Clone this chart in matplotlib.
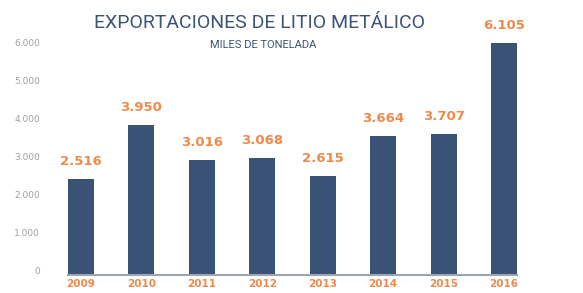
import matplotlib.pyplot as plt
import matplotlib.transforms as mtransforms

# ---------------------------------------------
# DATA
# ---------------------------------------------

years = ["2009", "2010", "2011", "2012", "2013", "2014", "2015", "2016"]
exports = [2516, 3950, 3016, 3068, 2615, 3664, 3707, 6105]
value_labels = ["2.516", "3.950", "3.016", "3.068", "2.615", "3.664", "3.707", "6.105"]
y_ticks = [0, 1000, 2000, 3000, 4000, 5000, 6000]
y_tick_labels = ["0", "1.000", "2.000", "3.000", "4.000", "5.000", "6.000"]

bar_color = "#3a5275"
orange = "#f0894a"
title_color = "#3d5478"

# ---------------------------------------------
# FIGURE
# ---------------------------------------------

W, H = 583, 293
fig = plt.figure(figsize=(W / 100, H / 100), dpi=100)

# axes: bars from x=68 to x=517 px, baseline at y=275 px
ax = fig.add_axes([68 / W, 18 / H, (517 - 68) / W, 235 / H])

x = list(range(len(years)))
ax.bar(x, exports, width=0.43, color=bar_color, zorder=2)

ax.set_xlim(-0.215, 7.215)
ax.set_ylim(0, 235 / 0.038)

# value labels above bars
for i, (v, lab) in enumerate(zip(exports, value_labels)):
    ax.annotate(lab, (i, v), xytext=(0, 8), textcoords="offset points",
                ha="center", va="bottom", color=orange, fontsize=9.5,
                fontweight="bold")

ax.set_xticks(x)
ax.set_xticklabels(years, color=orange, fontsize=7.5, fontweight="bold")
ax.tick_params(axis="x", length=0, pad=3)

ax.set_yticks(y_ticks)
ax.set_yticklabels(y_tick_labels, color="#a0a0a0", fontsize=6.5)
ax.tick_params(axis="y", length=0, pad=20)
offset = mtransforms.ScaledTranslation(0, 4 / 100, fig.dpi_scale_trans)
for lbl in ax.get_yticklabels():
    lbl.set_transform(lbl.get_transform() + offset)

for side in ["top", "right", "left"]:
    ax.spines[side].set_visible(False)
ax.spines["bottom"].set_color("#9aa5b5")
ax.spines["bottom"].set_linewidth(1.5)

# titles
fig.text(260 / W, 1 - 23 / H, "EXPORTACIONES DE LITIO METÁLICO", ha="center",
         va="center", color=title_color, fontsize=14, family="Roboto")
fig.text(263 / W, 1 - 45 / H, "MILES DE TONELADA", ha="center",
         va="center", color=title_color, fontsize=8, family="Roboto")

plt.savefig("out.png", dpi=100)
